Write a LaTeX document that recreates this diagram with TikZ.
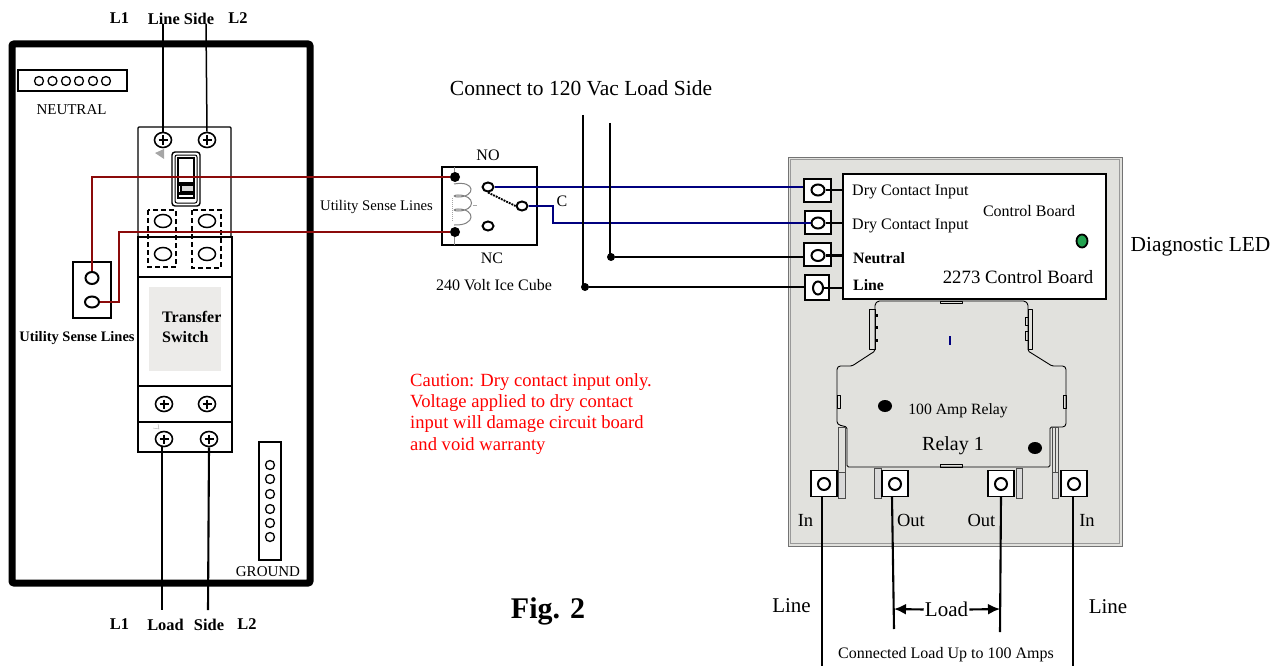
\documentclass[tikz,border=0pt]{standalone}
\usepackage{fontspec}
\setmainfont{Liberation Serif}
\usetikzlibrary{arrows,arrows.meta,shapes.geometric}

\definecolor{sensered}{HTML}{8B0A0A}
\definecolor{contactblue}{HTML}{00007F}
\definecolor{panelgray}{HTML}{E1E1DD}
\definecolor{switchgray}{HTML}{ECEBE9}
\definecolor{ledgreen}{HTML}{22A24F}

\tikzset{
  txt/.style={inner sep=0pt,font=\fontsize{#1}{#1}\selectfont},
  txt/.default=15,
  btxt/.style={inner sep=0pt,font=\fontsize{#1}{#1}\selectfont\bfseries},
  btxt/.default=16.4,
  hole/.style={ellipse,draw,line width=1.3,fill=white,inner sep=0pt,minimum width=9,minimum height=9},
  lughole/.style={ellipse,draw,line width=1.5,fill=white,inner sep=0pt,minimum width=17,minimum height=13},
  termhole/.style={ellipse,draw,line width=2,fill=white,inner sep=0pt,minimum width=13,minimum height=11},
  termbox/.style={rectangle,draw,line width=1.1,fill=white,inner sep=0pt,minimum width=26,minimum height=26},
  screw/.style={ellipse,draw,line width=1.6,fill=white,inner sep=0pt,minimum width=17,minimum height=15,
    path picture={\draw[line width=1.6] (path picture bounding box.center) +(-4.5,0) -- +(4.5,0) +(0,-4.5) -- +(0,4.5);}},
  wire/.style={line width=2.1,black},
  redwire/.style={line width=1.8,sensered},
  bluewire/.style={line width=1.8,contactblue},
  strip/.style={draw=black!70,line width=0.8,fill=black!15},
  relayline/.style={line width=0.9,line join=round},
  lugframe/.style={dash pattern=on 5 off 3,line width=1.2}
}

\begin{document}
\begin{tikzpicture}[x=1pt,y=-1pt]

\useasboundingbox (0,0) rectangle (1287,666);

\draw [line width=7,rounded corners=2] (12,44) rectangle (310,583);

\draw [line width=1.2] (18,70) rectangle (127,91);
\foreach \x in {39,52.5,66,79,93,106}
  \node [hole] at (\x,81) {};
\node [txt=15] (neutrallabel) at (71.5,109.5) {NEUTRAL};

\draw [line width=1.2] (259,442) rectangle (281,560);
\foreach \y in {465,479,494,509,523,537}
  \node [hole] at (270,\y) {};
\node [txt=15] (groundlabel) at (268,571.5) {GROUND};

\draw [line width=1.3,rounded corners=1] (138,127) rectangle (231,237);
\draw [fill=switchgray,draw=none] (149,287) rectangle (221,371);
\draw [line width=1.7] (138,237) rectangle (232,452);
\draw [line width=1.5] (138,277) -- (232,277);
\draw [line width=1.5] (138,386) -- (232,386);
\draw [line width=1.5] (138,422) -- (232,422);

\fill [black!35] (155,153) -- (164,149) -- (164,159) -- cycle;
\draw [black!35] (153,428) -- (159,429) -- (158,424);

\draw [line width=1.4,rounded corners=3] (172,152) rectangle (200,206);
\draw [line width=1,rounded corners=2] (175,155) rectangle (197,203);
\draw [line width=1.5,fill=white] (178,158) rectangle (194,198);
\draw [fill=black] (178,182) rectangle (194,185);
\draw [fill=black!15,line width=1.4] (181,185) rectangle (194,192);
\draw [fill=black] (178,192) rectangle (194,194);

\draw [lugframe] (148,210) rectangle (176,267);
\draw [lugframe] (192,210) rectangle (221,268);
\node [lughole] (lugtl) at (163,221) {};
\node [lughole] (lugtr) at (207,221) {};
\node [lughole] (lugbl) at (163,254) {};
\node [lughole] (lugbr) at (207,254) {};

\node [screw] (linescrewa) at (163,140) {};
\node [screw] (linescrewb) at (207,140) {};
\node [screw] (midscrewa) at (164,404) {};
\node [screw] (midscrewb) at (207,404) {};
\node [screw] (loadscrewa) at (164,439) {};
\node [screw] (loadscrewb) at (209,439) {};

\node [btxt] (lineL1) at (119.5,18.5) {L1};
\node [btxt] (linelabel) at (181,18.5) {Line Side};
\node [btxt] (lineL2) at (238,18.5) {L2};
\coordinate (linetopa) at (163,24);
\coordinate (linetopb) at (206,24);
\draw [wire] (linetopa) -- (linescrewa.north);
\draw [line width=1.5] (linetopb) -- (linescrewb.north);

\node [btxt] (loadL1) at (119.5,624.5) {L1};
\node [btxt] (loadlabel) at (165.5,624.5) {Load};
\node [btxt] (sidelabel) at (209,624.5) {Side};
\node [btxt] (loadL2) at (247,624.5) {L2};
\coordinate (loadenda) at (162,610);
\coordinate (loadendb) at (208,610);
\draw [wire] (loadscrewa.south -| loadenda) -- (loadenda);
\draw [wire] (loadscrewb.south) -- (loadendb);

\node [rectangle,draw,line width=1.6,minimum width=38,minimum height=56,inner sep=0pt] (sensebox) at (92,290) {};
\node [termhole,minimum width=13,minimum height=12] (sensea) at (92,278) {};
\node [termhole,minimum width=14,minimum height=11] (senseb) at (92,302) {};
\node [btxt=14.5] (senselabel) at (77,338) {Utility Sense Lines};
\node [align=left,btxt=16,anchor=west] (transferlabel) at (162,327) {Transfer\\[4pt]Switch};

\draw [line width=1.9,fill=white] (442,167) rectangle (537,245);
\draw [black!45,line width=1] (454,167) -- (454,177) (454,233) -- (454,245);
\draw [black!50,line width=1] (454,184) .. controls (476,180) and (476,197) .. (458,197)
  .. controls (453,197) and (453,195) .. (458,195)
  .. controls (476,195) and (476,211) .. (458,211)
  .. controls (453,211) and (453,209) .. (458,209)
  .. controls (476,209) and (476,226) .. (454,225);
\draw [black!35,line width=1,densely dotted] (452,198) -- (452,222);
\draw [black!35,line width=0.8] (473,205) -- (477,205);

\node [circle,fill=black,inner sep=0pt,minimum size=10] (coila) at (455,177) {};
\node [circle,fill=black,inner sep=0pt,minimum size=10] (coilb) at (455,232) {};
\node [termhole,minimum width=11,minimum height=9] (contactno) at (488,187) {};
\node [termhole,minimum width=11,minimum height=9] (contactnc) at (488,226) {};
\node [termhole,minimum width=11,minimum height=9] (contactc) at (522,206) {};
\draw [densely dotted,line width=1.9] (contactno.south) -- (contactc.west);

\node [txt=16] (nolabel) at (488,155.5) {NO};
\node [txt=16] (nclabel) at (492,258) {NC};
\node [txt=16] (clabel) at (562,201) {C};
\node [txt=16] (icecube) at (494,285.5) {240 Volt Ice Cube};
\node [txt=14.7] (relaysense) at (376.5,207) {Utility Sense Lines};
\node [txt=21.5] (connectlabel) at (581,88.5) {Connect to 120 Vac Load Side};

\draw [redwire] (sensea.north) |- (coila.west);
\draw [redwire] (senseb.east) -- (119,302) |- (coilb.west);

\draw [draw=black!55,line width=1,fill=panelgray] (788,157) rectangle (1122,546);
\draw [draw=black!40,line width=0.6] (790.5,159.5) rectangle (1119.5,543.5);

\node [rectangle,draw,line width=1.8,fill=white,minimum width=263,minimum height=125,inner sep=0pt] (board) at (974.5,236.5) {};

\node [termbox,minimum width=27,minimum height=23] (drybox) at (817.5,190.5) {};
\node [termhole] (dryhole) at (818,190) {};
\node [termbox,minimum height=23] (wetbox) at (818,222.5) {};
\node [termhole] (wethole) at (818,223) {};
\node [termbox,minimum width=27,minimum height=23] (neutralbox) at (817.5,254.5) {};
\node [termhole] (neutralhole) at (818,255.5) {};
\node [termbox,minimum width=24,minimum height=25] (linebox) at (817,287.5) {};
\node [termhole,minimum width=10,minimum height=13] (linehole) at (818,288) {};

\draw [wire] (dryhole.east) -- (board.west |- dryhole);
\draw [wire] (wethole.east) -- (board.west |- wethole);
\draw [wire] (neutralhole.east) -- (board.west |- neutralhole);
\draw [wire] (linehole.east) -- (board.west |- linehole);

\draw [bluewire] (contactno.east) -- (drybox.west |- contactno);
\draw [bluewire] (contactc.east) -- (553,206) -- (553,223) -- (wethole.west);
\draw [line width=2.1] (583,115) -- (583,287);
\draw [line width=2.1] (610,123) -- (610,257);
\node [circle,fill=black,inner sep=0pt,minimum size=8] (linedot) at (585,287) {};
\node [circle,fill=black,inner sep=0pt,minimum size=8] (neutraldot) at (611,257) {};
\draw [wire] (neutraldot.east) -- (neutralbox.west |- neutraldot);
\draw [wire] (linedot.east) -- (linebox.west |- linedot);

\node [txt=16,anchor=west] (drylabela) at (852,192) {Dry Contact Input};
\node [txt=16,anchor=west] (drylabelb) at (852,226) {Dry Contact Input};
\node [txt=16] (boardsmall) at (1029,211.5) {Control Board};
\node [btxt=15.8,anchor=west] (neutrallbl) at (853,258) {Neutral};
\node [btxt=15.8,anchor=west] (linelbl) at (853,285) {Line};
\node [txt=18.8] (boardname) at (1018,277.5) {2273 Control Board};
\node [ellipse,draw,line width=1.8,fill=ledgreen,inner sep=0pt,minimum width=11,minimum height=13] (led) at (1082,241) {};
\node [txt=21.4] (ledlabel) at (1200.5,246.5) {Diagnostic LED};

\draw [relayline,fill=panelgray,rounded corners=1.5] (875,351) -- (875,304) -- (878,301) -- (1025,301) -- (1028,304) -- (1028,351)
  -- (1052,366) -- (1064,366) -- (1066,368) -- (1066,425) -- (1064,427) -- (1050,427) -- (1050,467)
  -- (847,467) -- (847,427) -- (839,425) -- (837,423) -- (837,368) -- (839,366) -- (852,366) -- cycle;
\draw [relayline] (940,301) rectangle (962,303.5);
\draw [relayline] (940,464.5) rectangle (962,467);
\draw [relayline] (837,395) rectangle (840.5,408);
\draw [relayline] (1063,395) rectangle (1066,408);
\draw [relayline] (869,309) rectangle (875,349);
\draw [relayline] (1028,309) rectangle (1032,349);
\foreach \y in {317,329,342}
  \fill (875,\y) rectangle (878,\y-3);
\draw [relayline] (1028,317) -- (1025,317) -- (1025,325) -- (1028,325);
\draw [relayline] (1028,331) -- (1025,331) -- (1025,340) -- (1028,340);
\fill [contactblue] (948.5,336) rectangle (950.5,345);

\draw [strip] (838.5,427) rectangle (845,498);
\draw [strip] (874.5,468) rectangle (881,498);
\draw [strip] (1016,468) rectangle (1022,498);
\draw [strip] (1052,427) rectangle (1058.5,498);
\draw [draw=black!70,fill=panelgray,line width=0.8] (838.5,427) rectangle (845,472);
\draw [draw=black!70,fill=panelgray,line width=0.8] (1052,427) rectangle (1058.5,472);
\draw [draw=black!70,line width=0.8] (1055,427) -- (1055,472);

\node [ellipse,fill=black,inner sep=0pt,minimum width=14,minimum height=12] (relaydota) at (885,406) {};
\node [ellipse,fill=black,inner sep=0pt,minimum width=14,minimum height=12] (relaydotb) at (1035,448) {};
\node [txt=15.7] (relayamps) at (958,411) {100 Amp Relay};
\node [txt=20] (relayname) at (953,446) {Relay 1};

\node [termbox] (inboxa) at (824,483.5) {};
\node [termbox] (outboxa) at (895,483.5) {};
\node [termbox] (outboxb) at (1001,483.5) {};
\node [termbox] (inboxb) at (1074,483.5) {};
\node [termhole,minimum width=12,minimum height=12] (inholea) at (824,484) {};
\node [termhole,minimum width=12,minimum height=12] (outholea) at (895,484) {};
\node [termhole,minimum width=12,minimum height=12] (outholeb) at (1001,484) {};
\node [termhole,minimum width=12,minimum height=12] (inholeb) at (1074,484) {};

\node [txt=18.5] (inlabela) at (805.5,520.5) {In};
\node [txt=18.5] (outlabela) at (911,520.5) {Out};
\node [txt=18.5] (outlabelb) at (981.5,520.5) {Out};
\node [txt=18.5] (inlabelb) at (1087,520.5) {In};

\coordinate (lineenda) at (822,666);
\coordinate (loadenda2) at (894,629);
\coordinate (loadendb2) at (1000,632);
\coordinate (lineendb) at (1073,666);
\draw [wire] (inboxa.south -| lineenda) -- (lineenda);
\draw [wire] (892,497) -- (loadenda2);
\draw [wire] (outboxb.south) -- (loadendb2);
\draw [wire] (inboxb.south -| lineendb) -- (lineendb);

\node [txt=21,inner xsep=1pt] (loadmid) at (946.5,609.5) {Load};
\coordinate (loadtipa) at (894,609);
\coordinate (loadtipb) at (1000,609);
\draw [-{Latex[length=12,width=11]},wire] (loadmid.west) -- (loadtipa);
\draw [-{Latex[length=12,width=11]},wire] (loadmid.east) -- (loadtipb);

\node [txt=21] (linelabela) at (791.5,605.5) {Line};
\node [txt=21] (linelabelb) at (1108,606.5) {Line};
\node [txt=16] (connected) at (946,654.5) {Connected Load Up to 100 Amps};

\node [txt=18.6,text=red,anchor=west] (cautiona) at (410,382) {Caution: Dry contact input only.};
\node [txt=18.6,text=red,anchor=west] (cautionb) at (410,403.5) {Voltage applied to dry contact};
\node [txt=18.6,text=red,anchor=west] (cautionc) at (410,424.5) {input will damage circuit board};
\node [txt=18.6,text=red,anchor=west] (cautiond) at (410,446.5) {and void warranty};

\node [btxt=30] (figlabel) at (548,611.5) {Fig. 2};

\end{tikzpicture}
\end{document}
